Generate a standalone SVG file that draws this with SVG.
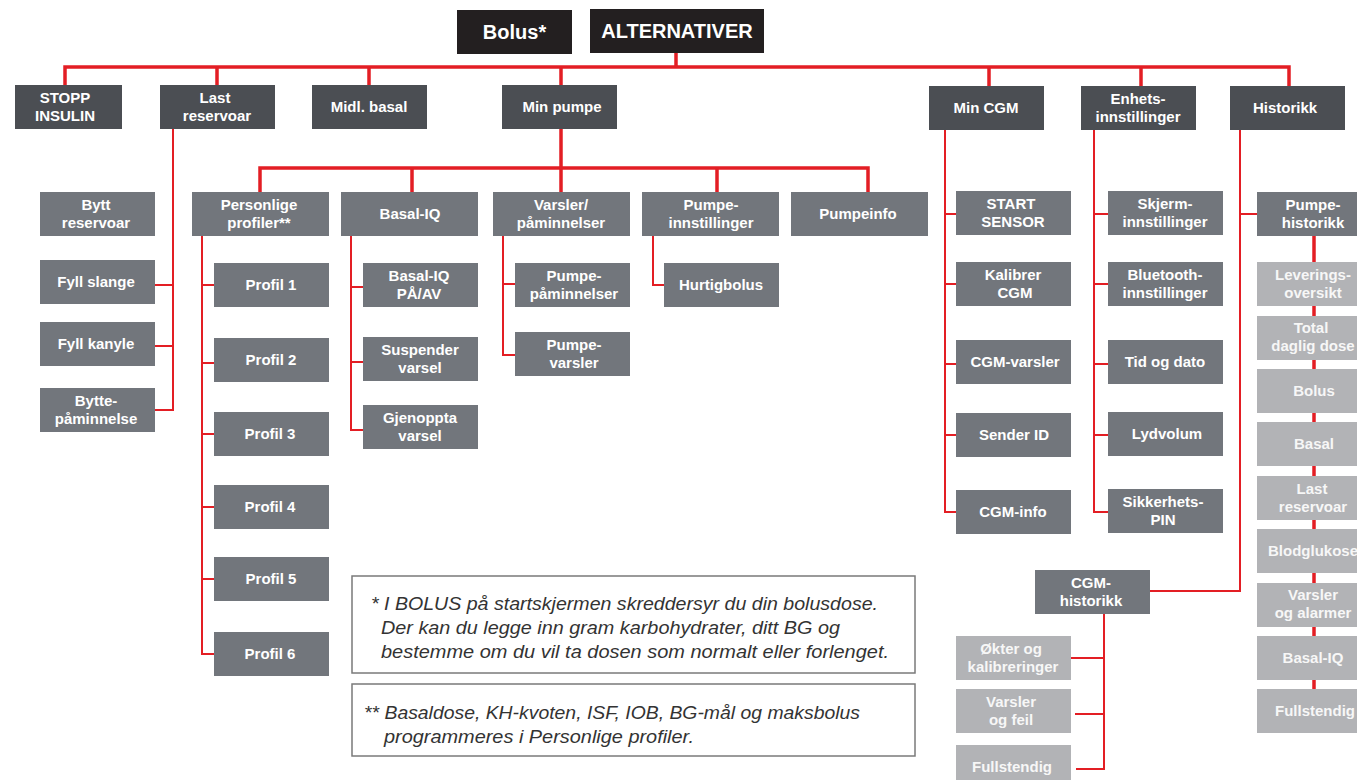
<svg xmlns="http://www.w3.org/2000/svg" width="1357" height="780" viewBox="0 0 1357 780">
<style>
.top{fill:#231f20}
.dark{fill:#4b4e53}
.mid{fill:#72767c}
.light{fill:#b2b3b6}
text{font-family:"Liberation Sans",Arial,sans-serif;font-weight:bold;font-size:15px;fill:#ffffff;text-anchor:middle}
text.big{font-size:20px}
text.lt{fill:#f7f7f7}
.note{fill:#ffffff;stroke:#7a7a7a;stroke-width:1.5}
text.nt{font-weight:normal;font-style:italic;font-size:18px;fill:#333333;text-anchor:start}
.c{fill:none;stroke:#e31e24;stroke-width:2}
.c3{fill:none;stroke:#e31e24;stroke-width:3.5}
</style>
<g id="connectors">
<path class="c3" d="M65 85 V67 H1289 V86 M676 53 V67 M217 67 V85 M369 67 V85 M561 67 V85 M989 67 V86 M1141 67 V86"/>
<path class="c3" d="M561 129 V192 M260 192 V168 H868 V192 M412 168 V192 M717 168 V192"/>
<path class="c3" d="M1314 236 V700"/>
<path class="c" d="M173 129 V410 H155 M173 285 H155 M173 346 H155"/>
<path class="c" d="M202 236 V654 H214 M202 285 H214 M202 363 H214 M202 434 H214 M202 507 H214 M202 579 H214"/>
<path class="c" d="M351 236 V430 H363 M351 287 H363 M351 362 H363"/>
<path class="c" d="M503 236 V355 H515 M503 284 H515"/>
<path class="c" d="M653 236 V285 H664"/>
<path class="c" d="M945 130 V512 H956 M945 214 H956 M945 284 H956 M945 364 H956 M945 435 H956"/>
<path class="c" d="M1094 130 V512 H1108 M1094 214 H1108 M1094 284 H1108 M1094 364 H1108 M1094 435 H1108"/>
<path class="c" d="M1240 130 V591 H1150 M1240 214 H1257"/>
<path class="c" d="M1104 614 V769 H1076 M1071 658 H1104 M1075 714 H1104"/>
</g>
<g id="bolus"><rect class="top" x="457" y="10" width="115" height="44"/><text class="big" x="514.5" y="39">Bolus*</text></g>
<g id="alternativer"><rect class="top" x="590" y="9" width="174" height="44"/><text class="big" x="677" y="38">ALTERNATIVER</text></g>

<g id="stopp-insulin"><rect class="dark" x="15" y="85" width="107" height="44"/><text x="65" y="103">STOPP</text><text x="65" y="121">INSULIN</text></g>
<g id="last-reservoar"><rect class="dark" x="160" y="85" width="115" height="44"/><text x="215" y="103">Last</text><text x="217" y="121">reservoar</text></g>
<g id="midl-basal"><rect class="dark" x="312" y="85" width="115" height="44"/><text x="369" y="112">Midl. basal</text></g>
<g id="min-pumpe"><rect class="dark" x="502" y="85" width="115" height="44"/><text x="562" y="112">Min pumpe</text></g>
<g id="min-cgm"><rect class="dark" x="929" y="86" width="115" height="44"/><text x="986" y="113">Min CGM</text></g>
<g id="enhetsinnstillinger"><rect class="dark" x="1081" y="86" width="115" height="44"/><text x="1138" y="104">Enhets-</text><text x="1138" y="122">innstillinger</text></g>
<g id="historikk"><rect class="dark" x="1230" y="86" width="115" height="44"/><text x="1285" y="113">Historikk</text></g>

<g id="personlige-profiler"><rect class="mid" x="192" y="192" width="137" height="44"/><text x="259" y="210">Personlige</text><text x="259" y="228">profiler**</text></g>
<g id="basal-iq"><rect class="mid" x="341" y="192" width="137" height="44"/><text x="410" y="219">Basal-IQ</text></g>
<g id="varsler-paminnelser"><rect class="mid" x="493" y="192" width="137" height="44"/><text x="561" y="210">Varsler/</text><text x="561" y="228">påminnelser</text></g>
<g id="pumpeinnstillinger"><rect class="mid" x="642" y="192" width="137" height="44"/><text x="711" y="210">Pumpe-</text><text x="711" y="228">innstillinger</text></g>
<g id="pumpeinfo"><rect class="mid" x="791" y="192" width="137" height="44"/><text x="858" y="219">Pumpeinfo</text></g>

<g id="bytt-reservoar"><rect class="mid" x="40" y="192" width="115" height="44"/><text x="96" y="210">Bytt</text><text x="96" y="228">reservoar</text></g>
<g id="fyll-slange"><rect class="mid" x="40" y="260" width="115" height="44"/><text x="96" y="287">Fyll slange</text></g>
<g id="fyll-kanyle"><rect class="mid" x="40" y="322" width="115" height="44"/><text x="96" y="349">Fyll kanyle</text></g>
<g id="byttepaminnelse"><rect class="mid" x="40" y="388" width="115" height="44"/><text x="96" y="406">Bytte-</text><text x="96" y="424">påminnelse</text></g>

<g id="profil-1"><rect class="mid" x="214" y="263" width="115" height="44"/><text x="271" y="290">Profil 1</text></g>
<g id="profil-2"><rect class="mid" x="214" y="338" width="115" height="44"/><text x="271" y="365">Profil 2</text></g>
<g id="profil-3"><rect class="mid" x="214" y="412" width="115" height="44"/><text x="270" y="439">Profil 3</text></g>
<g id="profil-4"><rect class="mid" x="214" y="485" width="115" height="44"/><text x="270" y="512">Profil 4</text></g>
<g id="profil-5"><rect class="mid" x="214" y="557" width="115" height="44"/><text x="271" y="584">Profil 5</text></g>
<g id="profil-6"><rect class="mid" x="214" y="632" width="115" height="44"/><text x="270" y="659">Profil 6</text></g>

<g id="basal-iq-pa-av"><rect class="mid" x="363" y="263" width="115" height="44"/><text x="419" y="281">Basal-IQ</text><text x="419" y="299">PÅ/AV</text></g>
<g id="suspender-varsel"><rect class="mid" x="363" y="337" width="115" height="44"/><text x="420" y="355">Suspender</text><text x="420" y="373">varsel</text></g>
<g id="gjenoppta-varsel"><rect class="mid" x="363" y="405" width="115" height="44"/><text x="420" y="423">Gjenoppta</text><text x="420" y="441">varsel</text></g>

<g id="pumpepaminnelser"><rect class="mid" x="515" y="263" width="115" height="44"/><text x="574" y="281">Pumpe-</text><text x="574" y="299">påminnelser</text></g>
<g id="pumpevarsler"><rect class="mid" x="515" y="332" width="115" height="44"/><text x="574" y="350">Pumpe-</text><text x="574" y="368">varsler</text></g>

<g id="hurtigbolus"><rect class="mid" x="664" y="263" width="115" height="44"/><text x="721" y="290">Hurtigbolus</text></g>

<g id="start-sensor"><rect class="mid" x="956" y="191" width="115" height="44"/><text x="1011" y="209">START</text><text x="1013" y="227">SENSOR</text></g>
<g id="kalibrer-cgm"><rect class="mid" x="956" y="262" width="115" height="44"/><text x="1013" y="280">Kalibrer</text><text x="1015" y="298">CGM</text></g>
<g id="cgm-varsler"><rect class="mid" x="956" y="340" width="115" height="44"/><text x="1015" y="367">CGM-varsler</text></g>
<g id="sender-id"><rect class="mid" x="956" y="413" width="115" height="44"/><text x="1014" y="440">Sender ID</text></g>
<g id="cgm-info"><rect class="mid" x="956" y="490" width="115" height="44"/><text x="1013" y="517">CGM-info</text></g>

<g id="skjerminnstillinger"><rect class="mid" x="1108" y="191" width="115" height="44"/><text x="1165" y="209">Skjerm-</text><text x="1165" y="227">innstillinger</text></g>
<g id="bluetoothinnstillinger"><rect class="mid" x="1108" y="262" width="115" height="44"/><text x="1165" y="280">Bluetooth-</text><text x="1165" y="298">innstillinger</text></g>
<g id="tid-og-dato"><rect class="mid" x="1108" y="340" width="115" height="44"/><text x="1165" y="367">Tid og dato</text></g>
<g id="lydvolum"><rect class="mid" x="1108" y="412" width="115" height="44"/><text x="1167" y="439">Lydvolum</text></g>
<g id="sikkerhetspin"><rect class="mid" x="1108" y="489" width="115" height="44"/><text x="1163" y="507">Sikkerhets-</text><text x="1163" y="525">PIN</text></g>

<g id="pumpehistorikk"><rect class="mid" x="1257" y="192" width="115" height="44"/><text x="1313" y="210">Pumpe-</text><text x="1313" y="228">historikk</text></g>
<g id="leveringsoversikt"><rect class="light" x="1257" y="262" width="115" height="44"/><text class="lt" x="1313" y="280">Leverings-</text><text class="lt" x="1313" y="298">oversikt</text></g>
<g id="total-daglig-dose"><rect class="light" x="1257" y="316" width="115" height="44"/><text class="lt" x="1311" y="333">Total</text><text class="lt" x="1313" y="351">daglig dose</text></g>
<g id="ph-bolus"><rect class="light" x="1257" y="369" width="115" height="44"/><text class="lt" x="1314" y="396">Bolus</text></g>
<g id="ph-basal"><rect class="light" x="1257" y="422" width="115" height="44"/><text class="lt" x="1314" y="449">Basal</text></g>
<g id="ph-last-reservoar"><rect class="light" x="1257" y="476" width="115" height="44"/><text class="lt" x="1312" y="494">Last</text><text class="lt" x="1313" y="512">reservoar</text></g>
<g id="ph-blodglukose"><rect class="light" x="1257" y="529" width="115" height="44"/><text class="lt" x="1313" y="556">Blodglukose</text></g>
<g id="ph-varsler-og-alarmer"><rect class="light" x="1257" y="583" width="115" height="44"/><text class="lt" x="1313" y="600">Varsler</text><text class="lt" x="1313" y="618">og alarmer</text></g>
<g id="ph-basal-iq"><rect class="light" x="1257" y="636" width="115" height="44"/><text class="lt" x="1313" y="663">Basal-IQ</text></g>
<g id="ph-fullstendig"><rect class="light" x="1257" y="689" width="115" height="44"/><text class="lt" x="1315" y="716">Fullstendig</text></g>

<g id="cgm-historikk"><rect class="mid" x="1035" y="570" width="115" height="44"/><text x="1091" y="588">CGM-</text><text x="1091" y="606">historikk</text></g>
<g id="okter-og-kalibreringer"><rect class="light" x="956" y="636" width="115" height="44"/><text class="lt" x="1011" y="654">Økter og</text><text class="lt" x="1013" y="672">kalibreringer</text></g>
<g id="varsler-og-feil"><rect class="light" x="956" y="689" width="115" height="44"/><text class="lt" x="1011" y="707">Varsler</text><text class="lt" x="1011" y="725">og feil</text></g>
<g id="cgm-fullstendig"><rect class="light" x="956" y="745" width="115" height="44"/><text class="lt" x="1012" y="772">Fullstendig</text></g>

<g id="note-1"><rect class="note" x="352" y="576" width="563" height="97"/>
<text class="nt" x="371" y="610" textLength="507" lengthAdjust="spacingAndGlyphs">* I BOLUS på startskjermen skreddersyr du din bolusdose.</text>
<text class="nt" x="381" y="634" textLength="459" lengthAdjust="spacingAndGlyphs">Der kan du legge inn gram karbohydrater, ditt BG og</text>
<text class="nt" x="381" y="658" textLength="508" lengthAdjust="spacingAndGlyphs">bestemme om du vil ta dosen som normalt eller forlenget.</text></g>
<g id="note-2"><rect class="note" x="352" y="684" width="563" height="72"/>
<text class="nt" x="364" y="719" textLength="496" lengthAdjust="spacingAndGlyphs">** Basaldose, KH-kvoten, ISF, IOB, BG-mål og maksbolus</text>
<text class="nt" x="384" y="743" textLength="310" lengthAdjust="spacingAndGlyphs">programmeres i Personlige profiler.</text></g>
</svg>
